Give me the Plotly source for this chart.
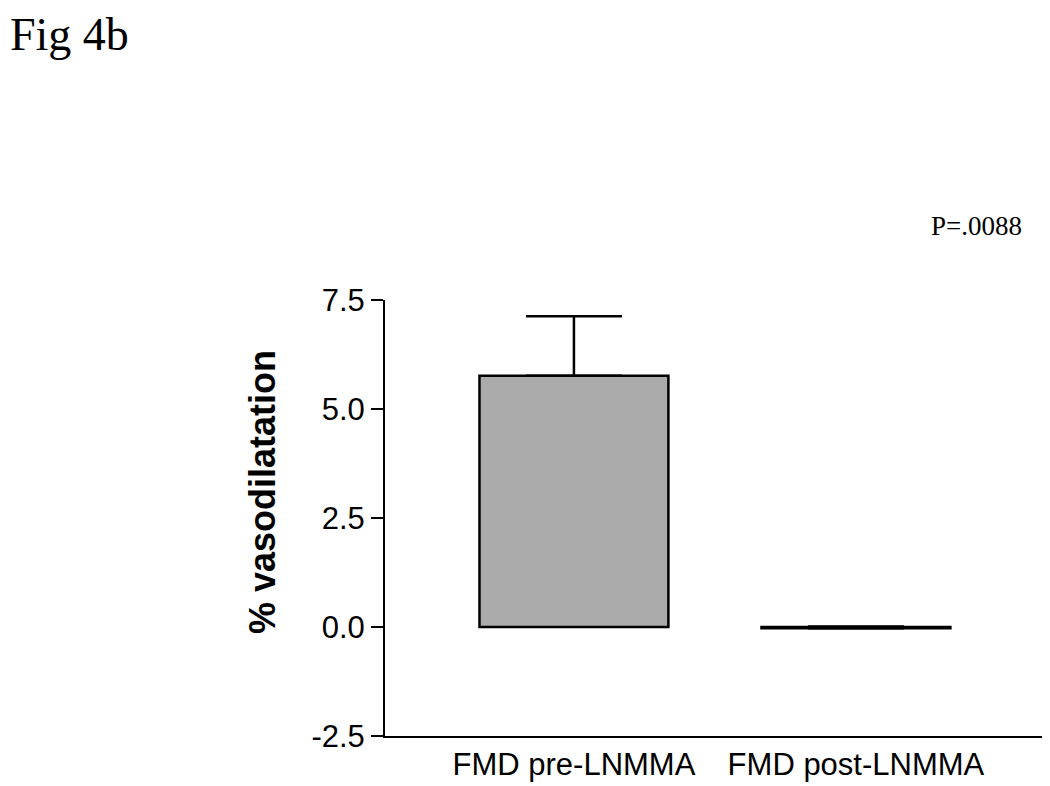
import plotly.graph_objects as go

# ---------------------------------------------------------
# Data
# ---------------------------------------------------------

groups = ["FMD pre-LNMMA", "FMD post-LNMMA"]
mean_vasodilatation = [5.76, -0.03]
sem_upper = [1.37, 0.04]
sem_lower = [0.0, 0.0]

y_ticks = [-2.5, 0.0, 2.5, 5.0, 7.5]

# plot area in pixels (left, right, top, bottom)
PX_L, PX_R, PX_T, PX_B = 377, 1038, 292, 728
W, H = 1050, 786


def paper_x(px):
    return (px - PX_L) / (PX_R - PX_L)


def paper_y(py):
    return (PX_B - py) / (PX_B - PX_T)


fig = go.Figure()

fig.add_bar(
    x=[0, 1],
    y=mean_vasodilatation,
    width=0.67,
    marker=dict(
        color="#aaaaaa",
        line=dict(color="black", width=2.5),
    ),
    error_y=dict(
        type="data",
        symmetric=False,
        array=sem_upper,
        arrayminus=sem_lower,
        color="black",
        thickness=2.5,
        width=48,
    ),
    showlegend=False,
)

fig.update_layout(
    width=W,
    height=H,
    paper_bgcolor="white",
    plot_bgcolor="white",
    margin=dict(l=PX_L, r=W - PX_R, t=PX_T, b=H - PX_B),
    font=dict(family="Liberation Sans, Arial", color="black"),
    xaxis=dict(
        range=[-0.670, 1.674],
        tickvals=[0, 1],
        ticktext=groups,
        showline=True,
        linecolor="black",
        linewidth=2,
        ticks="",
        showgrid=False,
        zeroline=False,
        tickfont=dict(size=31),
    ),
    yaxis=dict(
        range=[-2.5, 7.5],
        tickvals=y_ticks,
        ticktext=[f"{v:.1f}" for v in y_ticks],
        showline=True,
        linecolor="black",
        linewidth=2,
        ticks="outside",
        ticklen=12,
        tickwidth=2,
        tickcolor="black",
        showgrid=False,
        zeroline=False,
        tickfont=dict(size=31),
    ),
    annotations=[
        dict(
            text="<b>% vasodilatation</b>",
            xref="paper", yref="paper",
            x=paper_x(254), y=paper_y(484),
            xanchor="center", yanchor="middle",
            textangle=-90,
            showarrow=False,
            font=dict(size=36),
        ),
        dict(
            text="Fig 4b",
            xref="paper", yref="paper",
            x=paper_x(1), y=paper_y(0),
            xanchor="left", yanchor="top",
            borderpad=0,
            showarrow=False,
            font=dict(family="Liberation Serif, Times New Roman", size=46),
        ),
        dict(
            text="P=.0088",
            xref="paper", yref="paper",
            x=paper_x(1016), y=paper_y(218),
            xanchor="right", yanchor="middle",
            showarrow=False,
            font=dict(family="Liberation Serif, Times New Roman", size=27),
        ),
    ],
)

fig.write_html("out.html")
